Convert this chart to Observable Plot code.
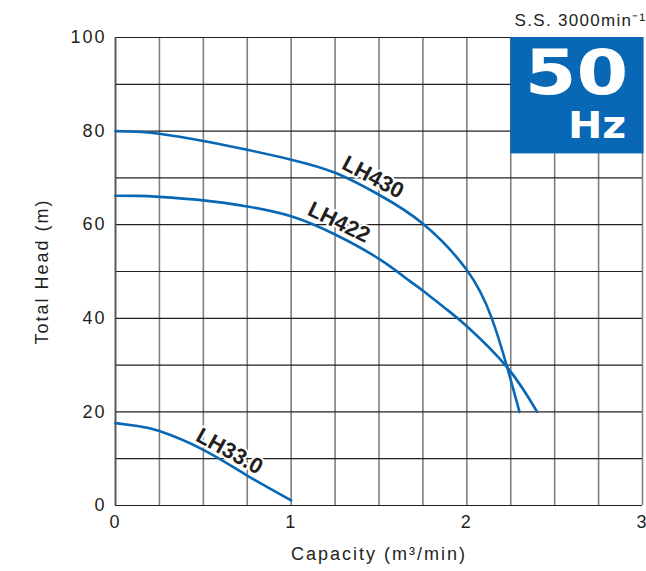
<!DOCTYPE html>
<html><head><meta charset="utf-8">
<script src="https://cdn.jsdelivr.net/npm/d3@7"></script>
<script src="https://cdn.jsdelivr.net/npm/@observablehq/plot@0.6"></script>
<style>
body{margin:0;background:#fff}
g[aria-label="x-axis tick label"], g[aria-label="y-axis tick label"], g[aria-label="x-axis label"], g[aria-label="y-axis label"] { letter-spacing: 2px; }
</style>
</head><body><div id="chart"></div>
<script>
// Tick labels
const xTicks = [0, 1, 2, 3];
const yTicks = [0, 20, 40, 60, 80, 100];
// Grid lines
const gridX = [0, 0.25, 0.5, 0.75, 1, 1.25, 1.5, 1.75, 2, 2.25, 2.5, 2.75, 3];
const gridY = [0, 10, 20, 30, 40, 50, 60, 70, 80, 90, 100];

// Pump curves (capacity m3/min, total head m)
const lh430Q = [0, 0.125, 0.25, 0.5, 0.75, 1, 1.25, 1.5, 1.75, 2, 2.14, 2.23, 2.3];
const lh430H = [80, 79.85, 79.45, 77.9, 76.0, 73.9, 71.1, 66.4, 60.2, 50.3, 40.2, 29.5, 20];
const lh422Q = [0, 0.125, 0.25, 0.5, 0.75, 1, 1.25, 1.5, 1.67, 1.75, 1.875, 2, 2.23, 2.4];
const lh422H = [66.2, 66.15, 65.95, 65.2, 63.9, 61.8, 57.9, 52.7, 48.1, 45.9, 42.2, 38.3, 29.5, 20];
const lh33Q = [0, 0.125, 0.25, 0.5, 0.75, 1];
const lh33H = [17.6, 17.0, 15.9, 11.9, 6.4, 1.1];

// Curve labels
const labelNames = ["LH430", "LH422", "LH33.0"];
const labelQ = [1.466, 1.272, 0.649];
const labelH = [70.15, 60.5, 11.6];
const labelAngle = [28, 26, 29];

// Frequency badge
const badgeQ = [2.25, 3];
const badgeH = [75, 100];
const badgeText = ["50", "Hz"];
const speedText = "S.S. 3000min\u207B\u00B9";

const toRows = (q, h) => q.map((v, i) => ({q: v, h: h[i]}));
const curves = [toRows(lh430Q, lh430H), toRows(lh422Q, lh422H), toRows(lh33Q, lh33H)];
const labels = labelNames.map((n, i) => ({name: n, q: labelQ[i], h: labelH[i], a: labelAngle[i]}));

const blue = "#0868b5";
const ink = "#231f20";

const plot = Plot.plot({
  width: 646,
  height: 571,
  marginLeft: 115,
  marginRight: 4,
  marginTop: 37,
  marginBottom: 66,
  x: {domain: [0, 3]},
  y: {domain: [0, 100]},
  style: {fontFamily: "'Liberation Sans', Arial, sans-serif", fontSize: "18px", color: ink, background: "#fff"},
  marks: [
    Plot.ruleX(gridX, {stroke: "#808080", strokeWidth: 1.6, strokeOpacity: 1, y1: 0, y2: 100}),
    Plot.ruleY(gridY, {stroke: ink, strokeWidth: 1.2, strokeOpacity: 1}),
    Plot.ruleX([0], {stroke: "#555", strokeWidth: 1.6}),
    Plot.rect([{x1: badgeQ[0], x2: badgeQ[1], y1: badgeH[0], y2: badgeH[1]}], {x1: "x1", x2: "x2", y1: "y1", y2: "y2", fill: blue, insetRight: -1.5, insetBottom: 0.6}),
    ...curves.map(c => Plot.line(c, {x: "q", y: "h", stroke: blue, strokeWidth: 2.6, curve: "natural"})),
    Plot.text(labels, {x: "q", y: "h", text: "name", rotate: "a", fontSize: 22, fontWeight: "bold", fill: ink, stroke: "white", strokeWidth: 4}),
    Plot.text([badgeText[0]], {frameAnchor: "top-right", dx: -66, dy: 12, lineAnchor: "top", textAnchor: "middle", fill: "white", fontSize: 62, fontWeight: "bold", fontFamily: "'DejaVu Sans', sans-serif"}),
    Plot.text([badgeText[1]], {frameAnchor: "top-right", dx: -45.5, dy: 74, lineAnchor: "top", textAnchor: "middle", fill: "white", fontSize: 38, fontWeight: "bold", fontFamily: "'DejaVu Sans', sans-serif"}),
    Plot.text([speedText], {frameAnchor: "top-right", dx: 4, dy: -24, textAnchor: "end", fill: ink, fontSize: 17}),
    Plot.axisY({ticks: yTicks, tickFormat: d => String(d), tickSize: 0, tickPadding: 9, label: "Total Head (m)", labelAnchor: "center", labelArrow: "none", labelOffset: 80}),
    Plot.axisX({ticks: xTicks, tickFormat: d => String(d), tickSize: 0, tickPadding: 10, label: "Capacity (m³/min)", labelAnchor: "center", labelArrow: "none", labelOffset: 54})
  ]
});
document.getElementById("chart").appendChild(plot);
// widen the badge lettering like the reference's extended face (scale about each text's own centre)
d3.select(plot).selectAll("text").each(function() {
  const t = this.textContent;
  let s = 0;
  if (t === badgeText[0]) s = 1.2;
  if (t === badgeText[1]) s = 1.08;
  if (t === speedText) this.style.letterSpacing = "1.3px";
  if (s) {
    const b = this.getBBox();
    const cx = b.x + b.width / 2;
    const prev = this.getAttribute("transform") || "";
    this.setAttribute("transform", `${prev} translate(${cx},0) scale(${s},1) translate(${-cx},0)`.trim());
  }
});
</script>
</body></html>
